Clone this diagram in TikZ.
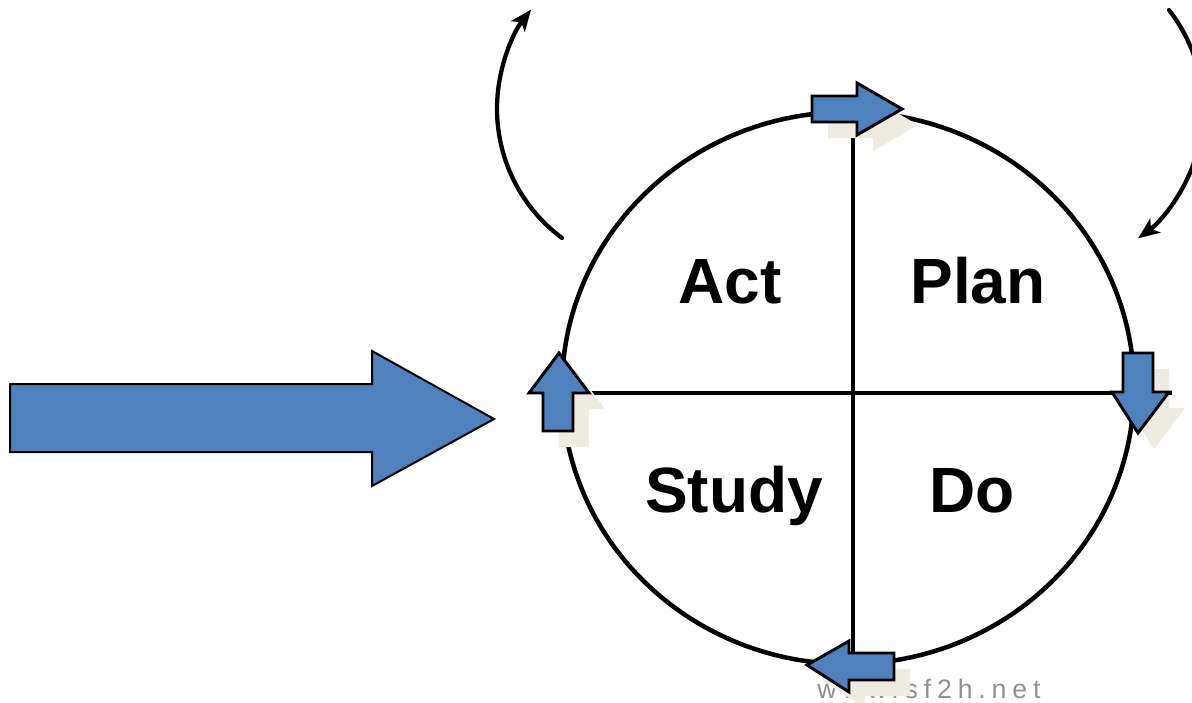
\documentclass[tikz,border=0pt]{standalone}
\usepackage{fontspec}
\setmainfont{Liberation Sans}
\usetikzlibrary{arrows.meta}

\tikzset{every picture/.style={line width=0.75pt}}
\tikzset{
  blockarrow/.style={draw=black, line width=2.2, fill={rgb, 255:red, 79; green, 129; blue, 189 }},
  arrowshadow/.style={fill={rgb, 255:red, 238; green, 236; blue, 225 }},
  phase/.style={font=\fontsize{48}{56}\selectfont\bfseries, anchor=base, inner sep=0},
  turnarrow/.style={line width=3.2, line cap=round, -{Stealth[length=16, width=13, inset=4]}}
}

\begin{document}
\begin{tikzpicture}[x=0.75pt,y=0.75pt,yscale=-1,xscale=1]
\useasboundingbox (0,0) rectangle (1192,703);

% cycle and quadrants
\draw  [line width=3.4]  (848,388) ellipse [x radius=286, y radius=276] ;
\draw  [line width=3.2]  (853,112) -- (853,663) ;
\draw  [line width=3.2]  (563,393) -- (1172,393) ;

\node [phase] (act) at (730,303) {Act};
\node [phase] (plan) at (978,303) {Plan};
\node [phase] (study) at (734,512) {Study};
\node [phase] (do) at (972,512) {Do};

% turning arrows
\draw  [turnarrow]  (562,238) arc [start angle=126.6, end angle=218, radius=161] ;
\draw  [turnarrow]  (1169,10) arc [start angle=-38, end angle=53.4, radius=161] ;

\node [anchor=base, text={rgb, 255:red, 145; green, 145; blue, 145 }, font=\fontsize{20}{24}\selectfont\addfontfeature{LetterSpace=22}] (site) at (929,698) {www.sf2h.net};

% shadows
\begin{scope}[shift={(16,16)}]
\fill  [arrowshadow]  (812,96) -- (857,96) -- (857,83) -- (902,109) -- (857,135) -- (857,122) -- (812,122) -- cycle ;
\fill  [arrowshadow]  (1123,353) -- (1153,353) -- (1153,392) -- (1169,392) -- (1138,433) -- (1112,392) -- (1123,392) -- cycle ;
\fill  [arrowshadow]  (894,653) -- (849,653) -- (849,641) -- (807,665) -- (849,692) -- (849,680) -- (894,680) -- cycle ;
\fill  [arrowshadow]  (543,431) -- (543,393) -- (529,393) -- (559,353) -- (589,393) -- (573,393) -- (573,431) -- cycle ;
\end{scope}

% block arrows
\draw  [blockarrow]  (812,96) -- (857,96) -- (857,83) -- (902,109) -- (857,135) -- (857,122) -- (812,122) -- cycle ;
\draw  [blockarrow]  (1123,353) -- (1153,353) -- (1153,392) -- (1169,392) -- (1138,433) -- (1112,392) -- (1123,392) -- cycle ;
\draw  [blockarrow]  (894,653) -- (849,653) -- (849,641) -- (807,665) -- (849,692) -- (849,680) -- (894,680) -- cycle ;
\draw  [blockarrow]  (543,431) -- (543,393) -- (529,393) -- (559,353) -- (589,393) -- (573,393) -- (573,431) -- cycle ;
\draw  [blockarrow, line width=1.5]  (10,384) -- (372,384) -- (372,351) -- (494,419) -- (372,486) -- (372,452) -- (10,452) -- cycle ;

\end{tikzpicture}
\end{document}
